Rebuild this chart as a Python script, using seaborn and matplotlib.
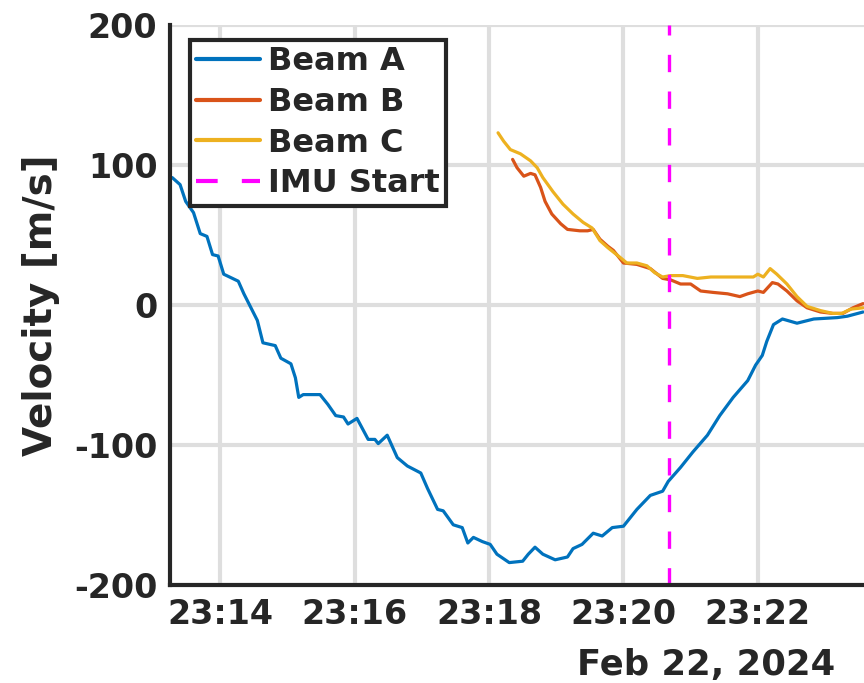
import pandas as pd
import numpy as np
import matplotlib
matplotlib.use('Agg')
from matplotlib import pyplot as plt
import matplotlib.dates as mdates
import seaborn as sns

DAY = '2024-02-22 '

# values
beam_a_time = ['23:13:17', '23:13:24', '23:13:29', '23:13:36', '23:13:42', '23:13:48', '23:13:53',
               '23:13:58', '23:14:03', '23:14:16', '23:14:21', '23:14:33', '23:14:38', '23:14:49',
               '23:14:54', '23:15:03', '23:15:07', '23:15:10', '23:15:14', '23:15:29', '23:15:36',
               '23:15:43', '23:15:50', '23:15:54', '23:16:02', '23:16:12', '23:16:18', '23:16:21',
               '23:16:29', '23:16:38', '23:16:47', '23:16:59', '23:17:05', '23:17:14', '23:17:19',
               '23:17:28', '23:17:36', '23:17:41', '23:17:46', '23:17:54', '23:18:01', '23:18:07',
               '23:18:18', '23:18:30', '23:18:35', '23:18:41', '23:18:48', '23:18:59', '23:19:10',
               '23:19:15', '23:19:23', '23:19:33', '23:19:41', '23:19:50', '23:20:00', '23:20:12',
               '23:20:24', '23:20:35', '23:20:40', '23:20:51', '23:21:02', '23:21:15', '23:21:26',
               '23:21:38', '23:21:51', '23:21:58', '23:22:04', '23:22:08', '23:22:14', '23:22:22',
               '23:22:35', '23:22:50', '23:23:11', '23:23:20', '23:23:34']
beam_a_vel = [91, 86, 74, 66, 51, 49, 36,
              35, 22, 17, 8, -11, -27, -29,
              -38, -42, -52, -66, -64, -64, -71,
              -79, -80, -85, -81, -96, -96, -99,
              -93, -109, -115, -120, -131, -146, -147,
              -157, -159, -170, -166, -169, -171, -178,
              -184, -183, -178, -173, -178, -182, -180,
              -174, -171, -163, -165, -159, -158, -146,
              -136, -133, -126, -116, -105, -93, -79,
              -66, -54, -43, -36, -26, -14, -10,
              -13, -10, -9, -8, -5]

beam_b_time = ['23:18:21', '23:18:25', '23:18:31', '23:18:37', '23:18:41', '23:18:46', '23:18:50',
               '23:18:56', '23:19:04', '23:19:10', '23:19:21', '23:19:28', '23:19:33', '23:19:39',
               '23:19:46', '23:19:51', '23:20:00', '23:20:12', '23:20:24', '23:20:35', '23:20:42',
               '23:20:51', '23:21:00', '23:21:09', '23:21:20', '23:21:33', '23:21:44', '23:21:51',
               '23:22:00', '23:22:05', '23:22:13', '23:22:18', '23:22:26', '23:22:35', '23:22:44',
               '23:22:56', '23:23:07', '23:23:16', '23:23:25', '23:23:34']
beam_b_vel = [104, 98, 92, 94, 93, 84, 74,
              65, 58, 54, 53, 53, 54, 47,
              42, 39, 30, 29, 26, 19, 18,
              15, 15, 10, 9, 8, 6, 8,
              10, 9, 16, 15, 10, 3, -2,
              -5, -6, -6, -2, 1]

beam_c_time = ['23:18:08', '23:18:13', '23:18:19', '23:18:28', '23:18:37', '23:18:43', '23:18:48',
               '23:18:57', '23:19:06', '23:19:15', '23:19:24', '23:19:32', '23:19:39', '23:19:46',
               '23:19:57', '23:20:03', '23:20:12', '23:20:21', '23:20:28', '23:20:35', '23:20:42',
               '23:20:53', '23:21:06', '23:21:18', '23:21:33', '23:21:44', '23:21:56', '23:22:00',
               '23:22:05', '23:22:11', '23:22:17', '23:22:26', '23:22:35', '23:22:44', '23:22:56',
               '23:23:07', '23:23:15', '23:23:23', '23:23:34']
beam_c_vel = [123, 117, 111, 108, 103, 98, 91,
              81, 72, 65, 59, 55, 46, 41,
              34, 30, 30, 28, 23, 20, 21,
              21, 19, 20, 20, 20, 20, 22,
              20, 26, 22, 15, 6, -1, -4,
              -6, -6, -3, -2]

imu_start = '23:20:41'
x_ticks = ['23:14', '23:16', '23:18', '23:20', '23:22']

beams = ['Beam A', 'Beam B', 'Beam C']
colors = ['#0072BD', '#D95319', '#EDB120']

frames = []
for name, t, v in zip(beams, [beam_a_time, beam_b_time, beam_c_time],
                      [beam_a_vel, beam_b_vel, beam_c_vel]):
    frames.append(pd.DataFrame({'time': pd.to_datetime([DAY + s for s in t]),
                                'velocity': v, 'beam': name}))
df = pd.concat(frames, ignore_index=True)

sns.set_style('white')
plt.rcParams['font.family'] = ['DejaVu Sans']
plt.rcParams['font.weight'] = 'bold'
plt.rcParams['axes.unicode_minus'] = False

fig = plt.figure(figsize=(8.64, 6.83), dpi=100)
ax = fig.add_axes([170 / 864, 1 - 585 / 683, 730 / 864, 560 / 683])

for name, c in zip(beams, colors):
    sub = df[df['beam'] == name]
    sns.lineplot(data=sub, x='time', y='velocity', color=c, linewidth=2.3,
                 label=name, ax=ax, sort=False)

ax.axvline(pd.Timestamp(DAY + imu_start), color='#FF00FF', linewidth=2.4,
           dashes=(5.2, 5.8), label='IMU Start')

ax.set_xlim(pd.Timestamp(DAY + '23:13:15'), pd.Timestamp(DAY + '23:24:07'))
ax.set_ylim(-200, 200)
ax.set_yticks([-200, -100, 0, 100, 200])
ax.set_xticks(pd.to_datetime([DAY + s for s in x_ticks]))
ax.xaxis.set_major_formatter(mdates.DateFormatter('%H:%M'))

ax.grid(True, color='#dedede', linewidth=3)
ax.set_axisbelow(True)
sns.despine(ax=ax)
for s in ['left', 'bottom']:
    ax.spines[s].set_linewidth(3)
    ax.spines[s].set_color('#262626')
ax.tick_params(direction='in', length=7, width=3, color='#262626',
               labelsize=24, labelcolor='#262626', pad=9)
for lab in ax.get_xticklabels() + ax.get_yticklabels():
    lab.set_fontweight('bold')

ax.set_xlabel('')
ax.set_ylabel('Velocity [m/s]', fontsize=28, fontweight='bold', color='#262626', labelpad=10)

fig.text(835 / 864, 8 / 683, 'Feb 22, 2024', ha='right', va='baseline',
         fontsize=25.5, fontweight='bold', color='#262626')

leg = ax.legend(loc='upper left', bbox_to_anchor=(20 / 730, 545 / 560), borderaxespad=0,
                handlelength=2.0, handletextpad=0.25, labelspacing=0.3,
                borderpad=0.2, fancybox=False, framealpha=1, prop={'weight': 'bold', 'size': 23})
leg.get_frame().set_edgecolor('#262626')
leg.get_frame().set_linewidth(3)
for h in leg.get_lines():
    h.set_linewidth(3)

fig.savefig('out.png', dpi=100)
